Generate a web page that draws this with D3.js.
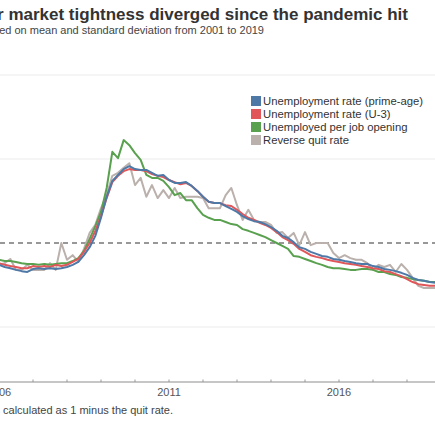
<!DOCTYPE html>
<html lang="en">
<head>
<meta charset="utf-8">
<title>Labor market tightness</title>
<script src="https://d3js.org/d3.v7.min.js"></script>
<style>
  body { margin: 0; background: #fff; }
  svg { display: block; font-family: "Liberation Sans", Arial, sans-serif; }
</style>
</head>
<body>
<script>
// bimonthly dates, 2005.5 to 2018.83
const startYear = 2005.5;
const nPoints = 81;
const dates = d3.range(nPoints).map(i => startYear + i / 6);

// z-scores
const primeAge = [-0.36,-0.40,-0.48,-0.52,-0.57,-0.60,-0.64,-0.67,-0.69,-0.62,-0.60,-0.62,-0.60,-0.62,-0.60,-0.57,-0.52,-0.45,-0.29,-0.10,
  0.17,0.60,1.10,1.48,1.62,1.76,1.83,1.76,1.74,1.74,1.67,1.60,1.62,1.50,1.43,1.43,1.45,1.36,1.24,1.10,
  0.98,0.95,0.95,0.88,0.81,0.74,0.64,0.57,0.52,0.50,0.45,0.38,0.29,0.17,0.12,0.02,-0.10,-0.14,-0.21,-0.26,
  -0.31,-0.33,-0.38,-0.40,-0.43,-0.45,-0.48,-0.50,-0.50,-0.55,-0.57,-0.62,-0.64,-0.67,-0.71,-0.76,-0.83,-0.88,-0.90,-0.93,-0.95];
const u3 = [-0.29,-0.36,-0.43,-0.48,-0.52,-0.55,-0.57,-0.60,-0.60,-0.55,-0.57,-0.55,-0.57,-0.52,-0.55,-0.52,-0.45,-0.38,-0.21,0.00,
  0.29,0.64,1.07,1.45,1.60,1.71,1.76,1.74,1.74,1.71,1.64,1.60,1.57,1.50,1.45,1.40,1.43,1.36,1.24,1.10,
  0.98,0.95,0.95,0.90,0.88,0.79,0.69,0.60,0.55,0.48,0.43,0.36,0.26,0.14,0.07,-0.02,-0.14,-0.21,-0.29,-0.33,
  -0.36,-0.40,-0.43,-0.45,-0.48,-0.50,-0.52,-0.55,-0.57,-0.60,-0.62,-0.67,-0.69,-0.74,-0.79,-0.86,-0.93,-0.98,-1.00,-1.02,-1.02];
const perOpening = [-0.29,-0.33,-0.38,-0.40,-0.43,-0.43,-0.45,-0.48,-0.50,-0.50,-0.52,-0.50,-0.52,-0.50,-0.48,-0.48,-0.43,-0.36,-0.19,0.10,
  0.40,0.74,1.31,2.17,2.02,2.45,2.33,2.14,1.98,1.62,1.55,1.55,1.48,1.33,1.14,1.19,1.02,1.02,0.83,0.67,
  0.60,0.55,0.55,0.50,0.45,0.43,0.33,0.29,0.24,0.19,0.14,0.07,0.00,-0.07,-0.14,-0.31,-0.33,-0.38,-0.43,-0.48,
  -0.52,-0.57,-0.60,-0.60,-0.62,-0.64,-0.64,-0.62,-0.62,-0.64,-0.69,-0.69,-0.74,-0.76,-0.81,-0.83,-0.86,-0.88,-0.90,-0.93,-0.93];
const reverseQuit = [-0.45,-0.52,-0.45,-0.52,-0.48,-0.38,-0.64,-0.64,-0.52,-0.64,-0.64,-0.64,-0.48,-0.64,0.00,-0.40,-0.29,-0.45,-0.14,0.24,
  0.43,0.83,1.14,1.60,1.67,1.79,1.90,1.38,1.55,1.10,1.38,1.07,1.26,1.07,1.31,1.07,1.10,1.10,1.10,1.07,
  0.83,0.83,0.83,1.14,1.31,0.90,0.55,0.79,0.55,0.50,0.50,0.43,0.24,0.26,0.12,0.24,-0.05,0.26,-0.05,0.00,
  0.00,0.00,-0.24,-0.36,-0.29,-0.36,-0.40,-0.40,-0.48,-0.64,-0.52,-0.57,-0.52,-0.69,-0.50,-0.64,-0.83,-1.02,-1.07,-1.07,-1.07];

const seriesNames = ["Unemployment rate (prime-age)", "Unemployment rate (U-3)", "Unemployed per job opening", "Reverse quit rate"];
const seriesColors = ["#4e79a7", "#e15759", "#59a14f", "#bab0ac"];
const seriesValues = [primeAge, u3, perOpening, reverseQuit];

const yTicks = [-2, 2, 4];
const majorYears = [2006, 2011, 2016];
const allYears = d3.range(2006, 2019);

const w = 435, h = 435;
const plotBottom = 382;

const svg = d3.select("body").append("svg")
  .attr("width", w).attr("height", h);

const x = d3.scaleLinear().domain([2006, 2019]).range([-1, 441]);
const y = d3.scaleLinear().domain([-2, 4]).range([327, 75]);

// titles (cut off on the left like the original)
svg.append("text")
  .attr("x", 408).attr("y", 20)
  .attr("text-anchor", "end")
  .attr("font-size", 17).attr("font-weight", "bold").attr("fill", "#333")
  .text("Labor market tightness diverged since the pandemic hit");
svg.append("text")
  .attr("x", 264).attr("y", 34)
  .attr("text-anchor", "end")
  .attr("font-size", 11).attr("fill", "#444")
  .text("Z-scores, based on mean and standard deviation from 2001 to 2019");

// grid
svg.append("g").selectAll("line")
  .data(yTicks).enter().append("line")
  .attr("x1", 0).attr("x2", w)
  .attr("y1", d => y(d)).attr("y2", d => y(d))
  .attr("stroke", "#ebebeb").attr("stroke-width", 1);

// zero line
svg.append("line")
  .attr("x1", 0).attr("x2", w)
  .attr("y1", y(0)).attr("y2", y(0))
  .attr("stroke", "#333").attr("stroke-width", 1.2)
  .attr("stroke-dasharray", "5,4");

// x axis
const xAxis = svg.append("g").attr("transform", "translate(0," + plotBottom + ")");
xAxis.append("line")
  .attr("x1", 0).attr("x2", w)
  .attr("stroke", "#b3b3b3").attr("stroke-width", 1.5);
xAxis.selectAll(".tick")
  .data(allYears).enter().append("line")
  .attr("x1", d => x(d)).attr("x2", d => x(d))
  .attr("y1", -2.5).attr("y2", 0)
  .attr("stroke", "#999").attr("stroke-width", 1);
xAxis.selectAll("text")
  .data(majorYears).enter().append("text")
  .attr("x", d => x(d)).attr("y", 14)
  .attr("text-anchor", "middle")
  .attr("font-size", 11).attr("fill", "#555")
  .text(d => d);

// lines, grey underneath, blue on top
const line = d3.line()
  .x((d, i) => x(dates[i]))
  .y(d => y(d));
const order = [3, 2, 1, 0];
svg.append("g").selectAll("path")
  .data(order).enter().append("path")
  .attr("d", i => line(seriesValues[i]))
  .attr("fill", "none")
  .attr("stroke", i => seriesColors[i])
  .attr("stroke-width", 2)
  .attr("stroke-linejoin", "round");

// legend
const legend = svg.append("g").attr("transform", "translate(251,101)");
const rows = legend.selectAll("g")
  .data(seriesNames).enter().append("g")
  .attr("transform", (d, i) => "translate(0," + (i * 13) + ")");
rows.append("rect")
  .attr("x", 0).attr("y", -5)
  .attr("width", 10).attr("height", 10)
  .attr("fill", (d, i) => seriesColors[i]);
rows.append("text")
  .attr("x", 12).attr("y", 4)
  .attr("font-size", 11.3).attr("fill", "#333")
  .text(d => d);

// note
svg.append("text")
  .attr("x", 173).attr("y", 414)
  .attr("text-anchor", "end")
  .attr("font-size", 11).attr("fill", "#444")
  .text("Note: Reverse quit rate is calculated as 1 minus the quit rate.");
</script>
</body>
</html>
